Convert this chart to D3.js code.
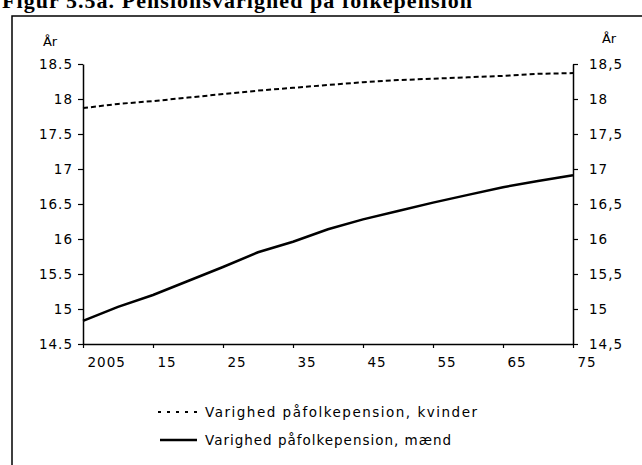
<!DOCTYPE html>
<html><head><meta charset="utf-8">
<script src="https://cdn.jsdelivr.net/npm/d3@7"></script>
<style>body{margin:0;background:#fff}svg{display:block}</style>
</head><body>
<svg id="c" width="642" height="465"></svg>
<script>
const years = [2005,2010,2015,2020,2025,2030,2035,2040,2045,2050,2055,2060,2065,2070,2075];
const kvinder = [17.87,17.93,17.97,18.02,18.07,18.12,18.16,18.20,18.24,18.27,18.29,18.31,18.33,18.36,18.37];
const maend = [14.83,15.03,15.20,15.40,15.60,15.81,15.96,16.14,16.28,16.40,16.52,16.63,16.74,16.83,16.91];
const xTicks = [2005,2015,2025,2035,2045,2055,2065,2075];
const xTickLabels = ["2005","15","25","35","45","55","65","75"];
const yTicks = [14.5,15,15.5,16,16.5,17,17.5,18,18.5];
const seriesNames = ["Varighed påfolkepension, kvinder","Varighed påfolkepension, mænd"];
const title = "Figur 5.5a. Pensionsvarighed på folkepension";

const svg = d3.select("#c");
const font = "'DejaVu Sans', sans-serif";
const L = 83, R = 573, T = 64, B = 344;
const x = d3.scaleLinear().domain([2005,2075]).range([L,R]);
const y = d3.scaleLinear().domain([14.5,18.5]).range([B,T]);

// title (cut at top, as in the scan)
svg.append("text").attr("x",2).attr("y",8).attr("font-family","'Liberation Serif', serif")
  .attr("font-weight","bold").attr("font-size",22).attr("textLength",470).text(title);
// frame
svg.append("path").attr("d","M12,470 V16 H645").attr("fill","none").attr("stroke","#000").attr("stroke-width",1.5);

// axes
const gl = svg.append("g").attr("transform",`translate(${L},0)`)
  .call(d3.axisLeft(y).tickValues(yTicks).tickSize(5).tickSizeOuter(0).tickFormat(d3.format(".1~f")));
const gr = svg.append("g").attr("transform",`translate(${R},0)`)
  .call(d3.axisRight(y).tickValues(yTicks).tickSize(5).tickSizeOuter(0).tickFormat(d=>d3.format(".1~f")(d).replace(".",",")));
const gx = svg.append("g").attr("transform",`translate(0,${B})`)
  .call(d3.axisBottom(x).tickValues(xTicks).tickSize(4).tickSizeOuter(0).tickFormat((d,i)=>xTickLabels[i]));
[gl,gr,gx].forEach(g=>{
  g.selectAll("path.domain").attr("stroke","#000").attr("stroke-width",1.5);
  g.selectAll(".tick line").attr("stroke","#000").attr("stroke-width",1.2);
  g.selectAll("text").attr("font-family",font).attr("font-size",13.5).attr("fill","#000").attr("letter-spacing",1);
});
gl.selectAll("text").attr("dx",-2);
gr.selectAll("text").attr("dx",8);
gx.selectAll("text").attr("text-anchor","start").attr("dx",4).attr("dy",16);

svg.append("text").attr("x",50).attr("y",46).attr("text-anchor","middle").attr("font-family",font).attr("font-size",13).text("År");
svg.append("text").attr("x",609).attr("y",43).attr("text-anchor","middle").attr("font-family",font).attr("font-size",13).text("År");

const line = d3.line().x((d,i)=>x(years[i])).y(d=>y(d));
svg.append("path").datum(kvinder).attr("d",line).attr("fill","none").attr("stroke","#000")
  .attr("stroke-width",2).attr("stroke-dasharray","5,3");
svg.append("path").datum(maend).attr("d",line).attr("fill","none").attr("stroke","#000")
  .attr("stroke-width",2.5);

// legend
const lg = svg.append("g");
const ly = [412,440];
lg.append("line").attr("x1",158).attr("x2",197).attr("y1",ly[0]).attr("y2",ly[0]).attr("stroke","#000").attr("stroke-width",2).attr("stroke-dasharray","3,6");
lg.append("line").attr("x1",160).attr("x2",197).attr("y1",ly[1]).attr("y2",ly[1]).attr("stroke","#000").attr("stroke-width",2.5);
seriesNames.forEach((s,i)=>{
  lg.append("text").attr("x",205).attr("y",ly[i]+5).attr("font-family",font).attr("font-size",13.5)
    .attr("textLength", i===0?272:246).text(s);
});
</script>
</body></html>
